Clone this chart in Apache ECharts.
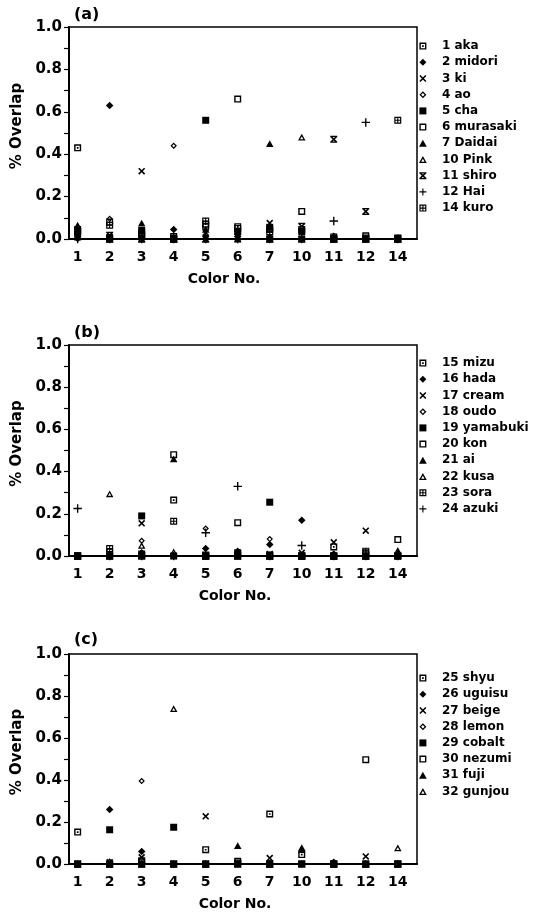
<!DOCTYPE html>
<html>
<head>
<meta charset="utf-8">
<script src="https://cdn.jsdelivr.net/npm/echarts@6/dist/echarts.min.js"></script>
<style>
  html, body { margin: 0; padding: 0; background: #fff; }
  #chart { width: 534px; height: 912px; }
</style>
</head>
<body>
<div id="chart"></div>
<script>
// Colour numbers along the horizontal axis (same for all three panels)
const categories = ['1', '2', '3', '4', '5', '6', '7', '10', '11', '12', '14'];

// Panel (a): basic colour terms
const panelATitle = '(a)';
const panelANames = ['1 aka', '2 midori', '3 ki', '4 ao', '5 cha', '6 murasaki',
                     '7 Daidai', '10 Pink', '11 shiro', '12 Hai', '14 kuro'];
const aka      = [0.43, 0.08, 0.02, 0, 0.07, 0.058, 0.045, 0.045, 0, 0.015, 0];
const midori   = [0.005, 0.63, 0.005, 0.045, 0, 0, 0, 0, 0, 0, 0];
const ki       = [0.015, 0.01, 0.32, 0, 0.03, 0, 0.075, 0, 0, 0, 0];
const ao       = [0, 0.095, 0, 0.44, 0.01, 0.005, 0.01, 0, 0.015, 0, 0];
const cha      = [0.045, 0.005, 0.04, 0, 0.56, 0.035, 0.055, 0.035, 0, 0, 0.005];
const murasaki = [0.035, 0, 0.01, 0.005, 0.06, 0.66, 0, 0.13, 0, 0, 0];
const daidai   = [0.06, 0, 0.075, 0, 0.045, 0, 0.45, 0, 0, 0, 0];
const pink     = [0.065, 0, 0, 0, 0, 0.025, 0, 0.48, 0, 0, 0];
const shiro    = [0.01, 0.018, 0, 0, 0, 0.01, 0, 0.06, 0.47, 0.13, 0];
const hai      = [0, 0, 0, 0, 0, 0, 0, 0, 0.085, 0.55, 0];
const kuro     = [0.025, 0.065, 0.03, 0.012, 0.085, 0.05, 0.035, 0, 0.01, 0.005, 0.56];

// Panel (b)
const panelBTitle = '(b)';
const panelBNames = ['15 mizu', '16 hada', '17 cream', '18 oudo', '19 yamabuki',
                     '20 kon', '21 ai', '22 kusa', '23 sora', '24 azuki'];
const mizu     = [0, 0.02, 0, 0.265, 0.005, 0.005, 0, 0, 0.043, 0, 0];
const hada     = [0, 0, 0.015, 0, 0.035, 0.022, 0.055, 0.17, 0.01, 0, 0];
const cream    = [0, 0, 0.155, 0, 0, 0, 0.01, 0.015, 0.065, 0.12, 0];
const oudo     = [0, 0.01, 0.072, 0, 0.13, 0, 0.08, 0, 0.005, 0, 0];
const yamabuki = [0, 0, 0.19, 0, 0, 0, 0.255, 0, 0, 0, 0];
const kon      = [0, 0, 0, 0.48, 0, 0.158, 0, 0, 0, 0.015, 0.078];
const ai       = [0, 0, 0.005, 0.46, 0, 0, 0, 0, 0, 0, 0.027];
const kusa     = [0, 0.295, 0.05, 0.02, 0, 0, 0, 0, 0, 0, 0.015];
const sora     = [0, 0.035, 0.01, 0.165, 0, 0.015, 0.005, 0, 0, 0.023, 0];
const azuki    = [0.225, 0, 0, 0, 0.11, 0.33, 0, 0.05, 0, 0, 0];

// Panel (c)
const panelCTitle = '(c)';
const panelCNames = ['25 shyu', '26 uguisu', '27 beige', '28 lemon', '29 cobalt',
                     '30 nezumi', '31 fuji', '32 gunjou'];
const shyu   = [0.152, 0, 0.015, 0, 0.068, 0.005, 0.238, 0.045, 0, 0, 0];
const uguisu = [0, 0.26, 0.06, 0, 0, 0, 0, 0, 0.008, 0, 0];
const beige  = [0, 0.008, 0.032, 0, 0.227, 0, 0.028, 0, 0, 0.036, 0];
const lemon  = [0, 0.012, 0.395, 0, 0, 0, 0.005, 0, 0, 0, 0];
const cobalt = [0, 0.163, 0, 0.175, 0, 0, 0, 0, 0, 0, 0];
const nezumi = [0, 0, 0.01, 0, 0, 0.013, 0, 0, 0, 0.497, 0];
const fuji   = [0, 0, 0, 0, 0, 0.088, 0, 0.078, 0, 0, 0];
const gunjou = [0, 0, 0, 0.74, 0, 0, 0, 0.068, 0, 0, 0.077];

// Marker shapes as filled paths; holes are drawn with reversed winding
const SYM = {
  sqDot:   'path://M0 0H10V10H0Z M2 2V8H8V2Z M3.8 3.8H6.2V6.2H3.8Z',
  diaFill: 'path://M5 0L10 5L5 10L0 5Z',
  cross:   'path://M0 1.6L1.6 0L10 8.4L8.4 10Z M8.4 0L10 1.6L1.6 10L0 8.4Z',
  diaOpen: 'path://M5 0L10 5L5 10L0 5Z M5 2.6L2.6 5L5 7.4L7.4 5Z',
  sqFill:  'path://M0 0H10V10H0Z',
  sqOpen:  'path://M0 0H10V10H0Z M2 2V8H8V2Z',
  triFill: 'path://M5 0L10 9L0 9Z',
  triOpen: 'path://M5 0L10 9L0 9Z M5 3.6L2.9 7.3L7.1 7.3Z',
  hourglass: 'path://M0 1.6L1.6 0L10 8.4L8.4 10Z M8.4 0L10 1.6L1.6 10L0 8.4Z M0 0H10V1.8H0Z M0 8.2H10V10H0Z',
  plus:    'path://M4.2 0H5.8V10H4.2Z M0 4.2H10V5.8H0Z',
  sqPlus:  'path://M0 0H10V10H0Z M1.7 1.7V4.2H4.2V1.7Z M5.8 1.7V4.2H8.3V1.7Z M1.7 5.8V8.3H4.2V5.8Z M5.8 5.8V8.3H8.3V5.8Z'
};
const SIZE = { plus: 8.5, cross: 7, hourglass: 7, diaOpen: 6.5, diaFill: 7.5, triFill: 7.5, triOpen: 7.5 };

const panels = [
  { title: panelATitle, names: panelANames,
    values: [aka, midori, ki, ao, cha, murasaki, daidai, pink, shiro, hai, kuro],
    symbols: ['sqDot', 'diaFill', 'cross', 'diaOpen', 'sqFill', 'sqOpen', 'triFill', 'triOpen', 'hourglass', 'plus', 'sqPlus'],
    top: 27, height: 212, titleTop: 7, legendTop: 38, xNameShift: 19 },
  { title: panelBTitle, names: panelBNames,
    values: [mizu, hada, cream, oudo, yamabuki, kon, ai, kusa, sora, azuki],
    symbols: ['sqDot', 'diaFill', 'cross', 'diaOpen', 'sqFill', 'sqOpen', 'triFill', 'triOpen', 'sqPlus', 'plus'],
    top: 345, height: 211, titleTop: 325, legendTop: 355, xNameShift: 8 },
  { title: panelCTitle, names: panelCNames,
    values: [shyu, uguisu, beige, lemon, cobalt, nezumi, fuji, gunjou],
    symbols: ['sqDot', 'diaFill', 'cross', 'diaOpen', 'sqFill', 'sqOpen', 'triFill', 'triOpen'],
    top: 654, height: 212, titleTop: 632, legendTop: 670, xNameShift: 8 }
];

const FONT = 'DejaVu Sans';
const GRID_LEFT = 69, GRID_RIGHT = 117;

const option = {
  animation: false,
  backgroundColor: '#fff',
  title: [], grid: [], xAxis: [], yAxis: [], legend: [], series: []
};

panels.forEach((p, k) => {
  option.title.push({
    text: p.title, left: 74, top: p.titleTop, padding: 0,
    textStyle: { fontFamily: FONT, fontSize: 16, fontWeight: 'bold', color: '#000' }
  });
  option.grid.push({
    left: GRID_LEFT, right: GRID_RIGHT, top: p.top, height: p.height,
    show: true, borderColor: '#000', borderWidth: 1.5, backgroundColor: 'transparent'
  });
  option.xAxis.push({
    type: 'value', gridIndex: k, min: -0.27, max: 10.6,
    name: 'Color No.', nameLocation: 'middle', nameGap: 33,
    nameTextStyle: { fontFamily: FONT, fontSize: 14, fontWeight: 'bold', color: '#000',
                     padding: [0, 2 * p.xNameShift, 0, 0] },
    axisLine: { show: true, lineStyle: { color: '#000', width: 2 } },
    axisTick: { show: false },
    splitLine: { show: false },
    axisLabel: {
      customValues: categories.map((c, i) => i),
      formatter: v => categories[Math.round(v)],
      margin: 11, fontFamily: FONT, fontSize: 14, fontWeight: 'bold', color: '#000'
    }
  });
  option.yAxis.push({
    type: 'value', gridIndex: k, min: 0, max: 1, interval: 0.2,
    name: '% Overlap', nameLocation: 'middle', nameGap: 41, nameRotate: 90,
    nameTextStyle: { fontFamily: FONT, fontSize: 15, fontWeight: 'bold', color: '#000',
                     padding: [0, 0, 0, 14] },
    axisLine: { show: true, onZero: false, lineStyle: { color: '#000', width: 2 } },
    axisTick: { show: true, length: 5, lineStyle: { color: '#000', width: 1.2 } },
    minorTick: { show: true, splitNumber: 2, length: 5, lineStyle: { color: '#000', width: 1.2 } },
    splitLine: { show: false },
    axisLabel: {
      formatter: v => v.toFixed(1), margin: 7,
      fontFamily: FONT, fontSize: 15, fontWeight: 'bold', color: '#000'
    }
  });
  option.legend.push({
    orient: 'vertical', left: 419, top: p.legendTop, padding: 0,
    itemWidth: 28, itemHeight: 7, itemGap: 0, symbolKeepAspect: true,
    selectedMode: false,
    data: p.names.map((n, i) => ({ name: n, icon: SYM[p.symbols[i]] })),
    itemStyle: { color: '#000', borderWidth: 0 },
    textStyle: { fontFamily: FONT, fontSize: 12, fontWeight: 'bold', color: '#000', lineHeight: 16.2 }
  });
  p.names.forEach((n, i) => {
    const s = p.symbols[i];
    option.series.push({
      type: 'scatter', name: n, xAxisIndex: k, yAxisIndex: k,
      symbol: SYM[s], symbolSize: SIZE[s] || 7, symbolKeepAspect: true,
      clip: false, silent: true,
      itemStyle: { color: '#000', opacity: 1 },
      data: p.values[i].map((v, j) => [j, v])
    });
  });
});

const chart = echarts.init(document.getElementById('chart'), null, { renderer: 'canvas' });
chart.setOption(option);
</script>
</body>
</html>
